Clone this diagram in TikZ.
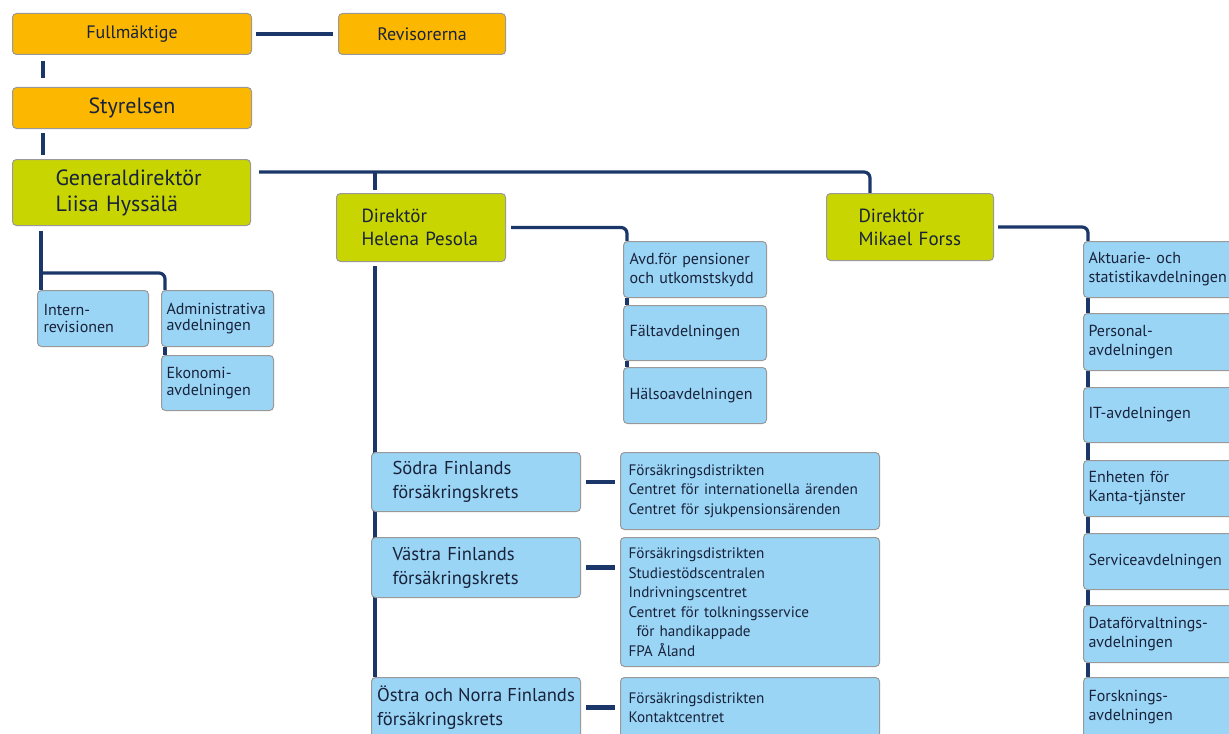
\documentclass[tikz,border=0pt]{standalone}
\usepackage{fontspec}
\setmainfont{PT Sans}
\usepackage{xcolor}
\usepackage{tikz}
\usetikzlibrary{backgrounds}
\definecolor{kelaorange}{RGB}{252,184,0}
\definecolor{kelalime}{RGB}{200,213,0}
\definecolor{kelablue}{RGB}{155,213,245}
\definecolor{kelanavy}{RGB}{27,55,105}
\definecolor{kelatext}{RGB}{24,34,58}
\tikzset{
	box/.style={draw=black!40,line width=0.5pt,rounded corners=2pt,anchor=north west,
		text=kelatext,inner ysep=0pt},
	sized/.style n args={3}{text width=#1,inner xsep=#2,minimum height=#3},
	top node/.style={box,fill=kelaorange,align=center},
	chief node/.style={box,fill=kelalime,align=left},
	unit node/.style={box,fill=kelablue,align=left},
	conn/.style={draw=kelanavy,line width=1.6pt,rounded corners=3pt},
	thick conn/.style={conn,line width=2.3pt}
}

\begin{document}
\begin{tikzpicture}[x=0.5pt,y=-0.5pt]
	\useasboundingbox (0,0) rectangle (1229,733);
	% top of the chart
	\node [top node,sized={115.5pt}{2pt}{20.5pt},font=\fontsize{9}{11}\selectfont] (full) at (12,13) {Fullmäktige};
	\node [top node,sized={79.5pt}{2pt}{20.5pt},font=\fontsize{9}{11}\selectfont] (rev) at (338,13) {Revisorerna};
	\node [top node,sized={115.5pt}{2pt}{20.5pt},font=\fontsize{11}{13}\selectfont] (sty) at (12,87) {Styrelsen};
	\node [chief node,sized={76pt}{21.5pt}{33pt},font=\fontsize{11}{13}\selectfont] (gd) at (12,159) {Generaldirektör\\Liisa Hyssälä};
	\node [chief node,sized={59.5pt}{12.5pt}{34pt},font=\fontsize{9.5}{11.5}\selectfont] (hel) at (336,193) {Direktör\\Helena Pesola};
	\node [chief node,sized={51.5pt}{16pt}{33.5pt},font=\fontsize{9.5}{11.5}\selectfont] (mik) at (826,193) {Direktör\\Mikael Forss};
	% staff units
	\node [unit node,sized={49.5pt}{3pt}{28pt},font=\fontsize{8}{8.4}\selectfont] (int) at (37,290) {Intern-\\revisionen};
	\node [unit node,sized={51pt}{2.5pt}{28pt},font=\fontsize{8}{8.4}\selectfont] (adm) at (161,290) {Administrativa\\avdelningen};
	\node [unit node,sized={51pt}{2.5pt}{27.5pt},font=\fontsize{8}{8.4}\selectfont] (eko) at (161,355) {Ekonomi-\\avdelningen};
	\node [unit node,sized={65.5pt}{3pt}{28pt},font=\fontsize{8}{9.5}\selectfont] (avd) at (623,241) {Avd.för pensioner\\och utkomstskydd};
	\node [unit node,sized={65.5pt}{3pt}{27.5pt},font=\fontsize{8}{9.5}\selectfont] (falt) at (623,305) {Fältavdelningen};
	\node [unit node,sized={65.5pt}{3pt}{28pt},font=\fontsize{8}{9.5}\selectfont] (halso) at (623,367) {Hälsoavdelningen};
	% insurance districts
	\node [unit node,sized={83.5pt}{10.5pt}{29.5pt},font=\fontsize{9.3}{12}\selectfont] (sod) at (371,452) {Södra Finlands\\försäkringskrets};
	\node [unit node,sized={83.5pt}{10.5pt}{30pt},font=\fontsize{9.3}{12}\selectfont] (vas) at (371,537) {Västra Finlands\\försäkringskrets};
	\node [unit node,minimum width=104.5pt,inner xsep=1pt,minimum height=30pt,font=\fontsize{9.3}{12}\selectfont] (ost) at (371,677) {Östra och Norra Finlands\\försäkringskrets};
	\node [unit node,sized={121.5pt}{4pt}{38.5pt},font=\fontsize{7.6}{9.75}\selectfont] (l1) at (620,452) {Försäkringsdistrikten\\Centret för internationella ärenden\\Centret för sjukpensionsärenden};
	\node [unit node,sized={121.5pt}{4pt}{64.5pt},font=\fontsize{7.6}{9.75}\selectfont] (l2) at (620,537) {Försäkringsdistrikten\\Studiestödscentralen\\Indrivningscentret\\Centret för tolkningsservice\\\hspace*{4pt}för handikappade\\FPA Åland};
	\node [unit node,sized={121.5pt}{4pt}{30pt},font=\fontsize{7.6}{9.75}\selectfont] (l3) at (620,677) {Försäkringsdistrikten\\Kontaktcentret};
	% units under Mikael Forss
	\node [unit node,sized={70pt}{2.5pt}{28pt},font=\fontsize{8}{9.5}\selectfont] (akt) at (1083,241) {Aktuarie- och\\statistikavdelningen};
	\node [unit node,sized={70pt}{2.5pt}{28.5pt},font=\fontsize{8}{9.5}\selectfont] (pers) at (1083,313) {Personal-\\avdelningen};
	\node [unit node,sized={70pt}{2.5pt}{27.5pt},font=\fontsize{8}{9.5}\selectfont] (it) at (1083,387) {IT-avdelningen};
	\node [unit node,sized={70pt}{2.5pt}{28pt},font=\fontsize{8}{9.5}\selectfont] (enh) at (1083,460) {Enheten för\\Kanta-tjänster};
	\node [unit node,sized={70pt}{2.5pt}{28pt},font=\fontsize{8}{9.5}\selectfont] (serv) at (1083,533) {Serviceavdelningen};
	\node [unit node,sized={70pt}{2.5pt}{28.5pt},font=\fontsize{8}{9.5}\selectfont] (data) at (1083,605) {Dataförvaltnings-\\avdelningen};
	\node [unit node,sized={70pt}{2.5pt}{30pt},font=\fontsize{8}{9.5}\selectfont] (forsk) at (1083,677) {Forsknings-\\avdelningen};

	\coordinate (gdr) at ([xshift=4pt,yshift=-6.5pt]gd.north east);
	\coordinate (hp) at ([xshift=19.5pt]hel.north west);
	\coordinate (ib) at ([xshift=2pt,yshift=8.5pt]int.north west);
	\begin{scope}[on background layer]
		\draw [thick conn,shorten <=2pt,shorten >=2.5pt] (full.east) -- (rev.west);
		\draw [thick conn,shorten <=3pt,shorten >=4.5pt] ([xshift=15.5pt]full.south west) -- ([xshift=15.5pt]sty.north west);
		\draw [thick conn,shorten <=2pt,shorten >=2pt] ([xshift=15.5pt]sty.south west) -- ([xshift=15.5pt]gd.north west);
		\draw [conn] (gdr) -| ([xshift=22pt]mik.north west);
		\draw [conn,shorten <=1.5pt] (hp) -- (hp |- gdr);
		\draw [thick conn,shorten <=2.5pt] ([xshift=14.5pt]gd.south west) -- ([xshift=2pt]int.north west);
		\draw [conn] (ib) -| ([xshift=2pt]adm.north west);
		\draw [conn] ([xshift=2pt]adm.south west) -- ([xshift=2pt]eko.north west);
		\draw [conn,shorten <=2.5pt] (hel.east) -| ([xshift=2pt]avd.north west);
		\draw [conn] ([xshift=2pt]avd.south west) -- ([xshift=2pt]falt.north west);
		\draw [conn] ([xshift=2pt]falt.south west) -- ([xshift=2pt]halso.north west);
		\draw [thick conn,shorten <=2pt] (hp |- hel.south) -- (hp |- ost.north);
		\draw [thick conn,shorten <=2.5pt,shorten >=2.5pt] (sod.east) -- (sod.east -| l1.west);
		\draw [thick conn,shorten <=2.5pt,shorten >=2.5pt] (vas.east) -- (vas.east -| l2.west);
		\draw [thick conn,shorten <=2.5pt,shorten >=2.5pt] (ost.east) -- (ost.east -| l3.west);
		\draw [conn,shorten <=2pt] (mik.east) -| ([xshift=2.5pt]akt.north west);
		\draw [conn] ([xshift=2.5pt]akt.south west) -- ([xshift=2.5pt]pers.north west);
		\draw [conn] ([xshift=2.5pt]pers.south west) -- ([xshift=2.5pt]it.north west);
		\draw [conn] ([xshift=2.5pt]it.south west) -- ([xshift=2.5pt]enh.north west);
		\draw [conn] ([xshift=2.5pt]enh.south west) -- ([xshift=2.5pt]serv.north west);
		\draw [conn] ([xshift=2.5pt]serv.south west) -- ([xshift=2.5pt]data.north west);
		\draw [conn] ([xshift=2.5pt]data.south west) -- ([xshift=2.5pt]forsk.north west);
	\end{scope}
\end{tikzpicture}
\end{document}
